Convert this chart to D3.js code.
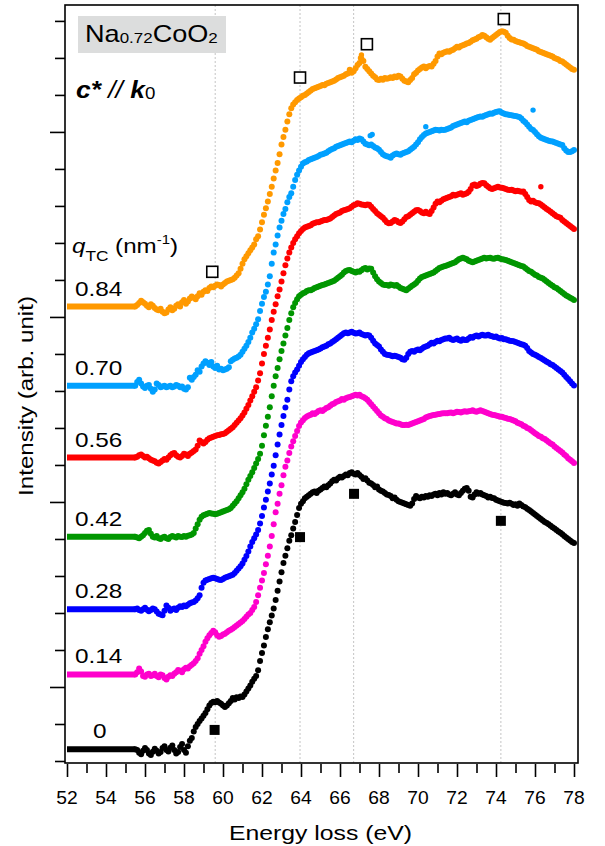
<!DOCTYPE html>
<meta charset="utf-8">
<style>
body { margin: 0; background: #fff; }
text { font-family: "Liberation Sans", Arial, sans-serif; fill: #000; }
</style>
<body>
<script src="https://d3js.org/d3.v7.min.js"></script>
<script>
// energy grid of the measured spectra (eV)
var eStart = 55.5, eStep = 0.1, eFlatFrom = 52;

// q_TC values (nm^-1) and curve colours, bottom to top
var qLabels = ["0", "0.14", "0.28", "0.42", "0.56", "0.70", "0.84"];
var colors = ["#000000", "#ff00cc", "#0000ff", "#009600", "#ff0000", "#00a0ff", "#ff9900"];

// intensities (arb. unit, offset for display), 55.5 -> 78.0 eV
var q000 = [0.32,0.30,0.22,0.18,0.28,0.35,0.30,0.20,0.16,0.25, 0.33,0.28,0.20,0.24,0.35,0.40,0.30,0.26,0.36,0.42,
  0.30,0.20,0.24,0.38,0.46,0.30,0.22,0.40,0.55,0.62, 0.80,0.92,1.00,1.08,1.15,1.22,1.30,1.40,1.50,1.57,
  1.60,1.59,1.62,1.58,1.55,1.50,1.46,1.50,1.56,1.62, 1.70,1.66,1.72,1.70,1.74,1.73,1.80,1.88,1.96,2.04,
  2.14,2.22,2.30,2.45,2.70,2.92,3.12,3.35,3.56,3.75, 3.93,4.12,4.35,4.60,4.85,5.10,5.35,5.55,5.75,5.95,
  6.10,6.28,6.46,6.65,6.84,6.95,7.02,7.10,7.14,7.18, 7.22,7.26,7.28,7.24,7.30,7.34,7.38,7.42,7.40,7.45,
  7.50,7.56,7.60,7.58,7.64,7.68,7.66,7.70,7.74,7.72, 7.78,7.80,7.76,7.74,7.78,7.73,7.68,7.62,7.64,7.58,
  7.52,7.50,7.46,7.40,7.42,7.34,7.30,7.28,7.24,7.20, 7.19,7.16,7.10,7.12,7.06,7.02,7.00,6.98,6.96,6.94,
  6.92,6.90,6.96,7.08,7.16,7.12,7.10,7.14,7.12,7.16, 7.14,7.18,7.16,7.20,7.22,7.18,7.24,7.20,7.26,7.22,
  7.24,7.20,7.18,7.22,7.26,7.20,7.18,7.24,7.30,7.36, 7.38,7.30,7.14,7.12,7.20,7.26,7.22,7.24,7.20,7.18,
  7.16,7.12,7.14,7.11,7.10,7.06,7.04,7.02,7.00,6.98, 6.97,6.96,6.98,6.95,6.92,6.94,6.90,6.96,6.92,6.88,
  6.86,6.82,6.78,6.74,6.70,6.66,6.62,6.58,6.54,6.50, 6.46,6.43,6.40,6.36,6.32,6.28,6.24,6.20,6.17,6.13,
  6.08,6.04,6.00,5.96,5.92,5.89];
var q014 = [2.34,2.40,2.50,2.42,2.30,2.28,2.34,2.36,2.30,2.32, 2.36,2.30,2.26,2.34,2.32,2.24,2.20,2.28,2.32,2.30,
  2.36,2.40,2.46,2.44,2.40,2.48,2.52,2.50,2.56,2.60, 2.64,2.70,2.78,2.90,3.00,3.10,3.22,3.32,3.40,3.46,
  3.52,3.48,3.40,3.36,3.38,3.42,3.44,3.48,3.52,3.55, 3.58,3.62,3.66,3.70,3.74,3.78,3.84,3.90,3.96,4.00,
  4.08,4.16,4.30,4.48,4.68,4.88,5.08,5.32,5.55,5.80, 6.08,6.40,6.72,6.95,7.22,7.45,7.72,7.95,8.12,8.32,
  8.50,8.64,8.78,8.92,9.05,9.15,9.21,9.27,9.31,9.34, 9.36,9.40,9.38,9.42,9.46,9.48,9.46,9.50,9.54,9.56,
  9.60,9.64,9.66,9.70,9.72,9.74,9.78,9.76,9.80,9.82, 9.84,9.86,9.88,9.90,9.88,9.90,9.86,9.84,9.80,9.76,
  9.70,9.64,9.58,9.52,9.46,9.40,9.34,9.30,9.26,9.24, 9.20,9.18,9.16,9.14,9.12,9.12,9.10,9.08,9.08,9.09,
  9.08,9.10,9.12,9.14,9.16,9.18,9.20,9.22,9.24,9.28, 9.30,9.32,9.34,9.35,9.36,9.37,9.38,9.39,9.40,9.40,
  9.40,9.41,9.42,9.40,9.42,9.44,9.43,9.42,9.44,9.45, 9.44,9.45,9.46,9.48,9.45,9.44,9.46,9.48,9.46,9.44,
  9.42,9.40,9.38,9.36,9.35,9.34,9.32,9.30,9.30,9.28, 9.27,9.25,9.24,9.22,9.20,9.18,9.14,9.12,9.10,9.06,
  9.04,9.00,8.98,8.94,8.90,8.86,8.82,8.78,8.76,8.72, 8.70,8.66,8.62,8.58,8.55,8.50,8.46,8.42,8.38,8.34,
  8.28,8.24,8.18,8.14,8.10,8.05];
var q028 = [4.10,4.12,4.08,4.06,4.10,4.14,4.09,4.05,4.08,4.12, 4.10,4.04,3.98,3.96,3.94,4.06,4.20,4.14,4.06,4.10,
  4.12,4.08,4.14,4.18,4.16,4.20,4.18,4.22,4.26,4.28, 4.30,4.34,4.40,4.48,4.68,4.82,4.88,4.90,4.92,4.94,
  4.95,4.94,4.92,4.90,4.89,4.92,4.95,4.97,4.99,5.01, 5.03,5.08,5.14,5.20,5.26,5.34,5.44,5.54,5.66,5.80,
  5.92,6.02,6.12,6.24,6.42,6.62,6.85,7.06,7.28,7.50, 7.74,7.98,8.26,8.55,8.82,9.08,9.32,9.55,9.76,10.04,
  10.26,10.40,10.50,10.58,10.68,10.78,10.86,10.92,10.98,11.02, 11.04,11.06,11.08,11.10,11.12,11.15,11.18,11.20,11.22,11.26,
  11.28,11.32,11.36,11.40,11.44,11.48,11.52,11.56,11.58,11.56, 11.58,11.60,11.57,11.55,11.56,11.58,11.54,11.52,11.50,11.51,
  11.50,11.44,11.36,11.28,11.24,11.20,11.12,11.06,11.00,10.98, 10.97,10.96,10.94,10.95,10.94,10.92,10.90,10.86,10.84,10.90,
  11.00,11.06,11.08,11.06,11.10,11.12,11.10,11.14,11.18,11.20, 11.22,11.26,11.30,11.28,11.32,11.36,11.34,11.38,11.40,11.42,
  11.42,11.44,11.40,11.38,11.40,11.42,11.38,11.36,11.40,11.38, 11.38,11.42,11.46,11.44,11.48,11.50,11.47,11.50,11.52,11.50,
  11.50,11.52,11.49,11.48,11.46,11.47,11.44,11.42,11.43,11.40, 11.40,11.38,11.36,11.35,11.34,11.32,11.30,11.28,11.26,11.25,
  11.22,11.16,11.08,11.04,11.00,10.98,10.95,10.92,10.89,10.86, 10.82,10.79,10.76,10.72,10.70,10.66,10.62,10.58,10.54,10.50,
  10.44,10.38,10.32,10.26,10.20,10.15];
var q042 = [6.06,6.04,6.02,6.06,6.10,6.16,6.22,6.24,6.14,6.06, 6.04,6.08,6.02,6.00,6.04,6.06,6.02,6.00,6.05,6.08,
  6.06,6.04,6.08,6.06,6.05,6.08,6.06,6.09,6.10,6.12, 6.16,6.28,6.40,6.52,6.60,6.64,6.66,6.68,6.70,6.69,
  6.68,6.67,6.68,6.70,6.72,6.74,6.76,6.78,6.80,6.84, 6.90,6.96,7.02,7.10,7.18,7.26,7.36,7.48,7.60,7.70,
  7.80,7.92,8.04,8.16,8.30,8.52,8.80,9.06,9.30,9.56, 9.86,10.14,10.40,10.62,10.86,11.08,11.28,11.50,11.70,11.92,
  12.10,12.26,12.38,12.48,12.56,12.60,12.64,12.66,12.70,12.72, 12.72,12.75,12.78,12.80,12.82,12.84,12.86,12.88,12.90,12.92,
  12.94,12.96,12.98,13.02,13.06,13.10,13.14,13.20,13.24,13.26, 13.27,13.24,13.22,13.20,13.23,13.22,13.26,13.30,13.32,13.28,
  13.31,13.30,13.20,13.10,13.02,12.96,12.92,12.88,12.86,12.86, 12.84,12.88,12.86,12.84,12.86,12.82,12.78,12.76,12.74,12.72,
  12.76,12.80,12.84,12.88,12.92,12.98,13.04,13.08,13.10,13.12, 13.14,13.16,13.18,13.20,13.24,13.28,13.32,13.34,13.36,13.38,
  13.40,13.42,13.44,13.46,13.48,13.52,13.56,13.58,13.60,13.58, 13.56,13.52,13.50,13.48,13.50,13.52,13.54,13.56,13.58,13.60,
  13.58,13.59,13.60,13.58,13.57,13.59,13.60,13.58,13.56,13.55, 13.54,13.52,13.50,13.48,13.46,13.44,13.42,13.40,13.38,13.36,
  13.32,13.28,13.24,13.22,13.18,13.14,13.12,13.08,13.06,13.04, 13.00,12.96,12.92,12.88,12.84,12.80,12.78,12.74,12.70,12.66,
  12.62,12.58,12.55,12.52,12.49,12.46];
var q056 = [8.20,8.22,8.26,8.28,8.24,8.20,8.22,8.18,8.14,8.12, 8.10,8.06,8.04,8.08,8.12,8.16,8.14,8.20,8.26,8.30,
  8.32,8.26,8.22,8.20,8.24,8.30,8.28,8.24,8.30,8.34, 8.38,8.42,8.52,8.66,8.62,8.58,8.62,8.68,8.72,8.74,
  8.76,8.78,8.80,8.81,8.83,8.84,8.86,8.90,8.94,8.98, 9.02,9.08,9.14,9.20,9.26,9.34,9.42,9.52,9.62,9.74,
  9.86,9.98,10.10,10.28,10.48,10.74,11.00,11.22,11.44,11.66, 11.92,12.14,12.34,12.56,12.74,12.96,13.18,13.40,13.58,13.74,
  13.88,14.00,14.10,14.18,14.26,14.32,14.38,14.42,14.44,14.46, 14.48,14.52,14.54,14.56,14.56,14.58,14.60,14.62,14.62,14.64,
  14.66,14.70,14.74,14.78,14.80,14.82,14.86,14.88,14.90,14.92, 14.94,14.98,15.02,15.04,15.07,15.06,15.04,15.03,15.02,15.04,
  15.03,14.98,14.92,14.86,14.80,14.76,14.72,14.68,14.62,14.56, 14.53,14.54,14.58,14.62,14.60,14.56,14.54,14.58,14.64,14.70,
  14.72,14.76,14.80,14.84,14.88,14.89,14.86,14.82,14.80,14.84, 14.80,14.78,14.86,14.96,15.06,15.12,15.10,15.14,15.18,15.20,
  15.22,15.24,15.26,15.30,15.28,15.30,15.32,15.34,15.30,15.32, 15.34,15.38,15.46,15.56,15.58,15.54,15.56,15.60,15.62,15.61,
  15.56,15.52,15.48,15.46,15.48,15.50,15.52,15.50,15.49,15.48, 15.46,15.44,15.43,15.44,15.42,15.40,15.41,15.40,15.38,15.39,
  15.32,15.24,15.16,15.12,15.14,15.10,15.08,15.07,15.04,15.00, 14.96,14.92,14.88,14.84,14.80,14.76,14.72,14.70,14.68,14.62,
  14.58,14.54,14.50,14.46,14.42,14.38];
var q070 = [10.14,10.24,10.30,10.20,10.12,10.08,10.14,10.16,10.06,9.98, 10.04,10.20,10.16,10.10,10.12,10.14,10.10,10.12,10.14,10.10,
  10.12,10.16,10.14,10.10,10.12,10.06,10.04,10.10,10.36,10.30, 10.38,10.44,10.56,10.52,10.66,10.74,10.80,10.76,10.70,10.78,
  10.66,10.62,10.68,10.58,10.60,10.56,10.58,10.60,10.64,10.80, 10.84,10.88,10.90,10.93,10.98,11.06,11.14,11.22,11.32,11.44,
  11.58,11.68,11.80,11.94,12.16,12.36,12.54,12.68,12.88,13.10, 13.44,13.74,13.96,14.20,14.42,14.60,14.78,14.92,15.10,15.24,
  15.34,15.52,15.70,15.84,15.96,16.06,16.15,16.18,16.20,16.24, 16.26,16.28,16.30,16.32,16.35,16.38,16.40,16.42,16.44,16.48,
  16.51,16.54,16.56,16.60,16.62,16.64,16.66,16.68,16.70,16.72, 16.74,16.72,16.76,16.80,16.78,16.82,16.80,16.74,16.68,16.66,
  16.64,16.66,16.62,16.58,16.56,16.52,16.46,16.40,16.36,16.34, 16.33,16.30,16.36,16.40,16.42,16.40,16.38,16.42,16.44,16.46,
  16.48,16.52,16.56,16.60,16.66,16.72,16.80,16.86,16.92,16.96, 16.98,17.00,17.02,17.04,17.06,17.05,17.04,17.06,17.05,17.06,
  17.08,17.10,17.12,17.16,17.18,17.20,17.22,17.24,17.26,17.28, 17.26,17.30,17.32,17.34,17.36,17.38,17.40,17.42,17.41,17.44,
  17.46,17.48,17.50,17.49,17.52,17.54,17.55,17.56,17.52,17.50, 17.48,17.47,17.46,17.45,17.44,17.43,17.42,17.40,17.36,17.30,
  17.26,17.20,17.14,17.08,17.05,17.00,16.94,16.88,16.84,16.82, 16.80,16.78,16.76,16.75,16.74,16.72,16.70,16.68,16.66,16.65,
  16.56,16.50,16.46,16.46,16.48,16.51];
var q084 = [12.28,12.32,12.38,12.44,12.40,12.36,12.30,12.26,12.34,12.30, 12.24,12.20,12.18,12.22,12.14,12.10,12.12,12.20,12.26,12.18,
  12.22,12.30,12.34,12.28,12.40,12.46,12.36,12.42,12.50,12.55, 12.52,12.48,12.56,12.64,12.60,12.68,12.72,12.70,12.78,12.82,
  12.80,12.84,12.88,12.86,12.82,12.88,12.92,12.96,12.98,13.00, 13.02,13.06,13.12,13.18,13.30,13.44,13.56,13.64,13.72,13.80,
  13.88,13.96,14.10,14.18,14.36,14.56,14.76,14.94,15.12,15.32, 15.52,15.74,15.96,16.16,16.40,16.66,16.86,17.06,17.28,17.48,
  17.64,17.74,17.80,17.86,17.90,17.94,17.98,18.00,18.04,18.08, 18.12,18.16,18.18,18.20,18.22,18.24,18.27,18.26,18.30,18.32,
  18.34,18.36,18.38,18.42,18.46,18.48,18.50,18.52,18.56,18.58, 18.68,18.60,18.64,18.72,18.81,18.86,18.98,18.92,18.76,18.70,
  18.64,18.58,18.52,18.48,18.42,18.40,18.44,18.41,18.46,18.44, 18.45,18.48,18.46,18.50,18.48,18.52,18.50,18.44,18.38,18.36,
  18.34,18.40,18.46,18.56,18.60,18.66,18.70,18.74,18.77,18.72, 18.76,18.78,18.77,18.84,18.92,19.04,19.12,19.10,19.14,19.16,
  19.18,19.17,19.20,19.22,19.26,19.30,19.28,19.32,19.34,19.36, 19.39,19.40,19.44,19.48,19.50,19.52,19.56,19.58,19.62,19.60,
  19.56,19.52,19.49,19.54,19.58,19.62,19.66,19.70,19.72,19.71, 19.68,19.60,19.54,19.50,19.49,19.46,19.44,19.42,19.40,19.39,
  19.36,19.32,19.30,19.28,19.26,19.24,19.22,19.18,19.16,19.14, 19.12,19.10,19.08,19.06,19.04,19.00,18.98,18.96,18.92,18.90,
  18.86,18.82,18.78,18.74,18.70,18.68];
var spectra = [q000, q014, q028, q042, q056, q070, q084];

// stray points lying off the curves: [series index, energy, intensity]
var strays = [[4, 76.3, 15.52], [5, 67.55, 16.90], [5, 67.65, 16.93], [5, 70.4, 17.14],
  [5, 75.9, 17.59], [6, 67.1, 19.08], [6, 67.05, 19.00]];

// feature markers: energy, intensity
var openMarks = [[59.45, 13.22], [63.95, 18.47], [67.38, 19.37], [74.4, 20.05]];
var filledMarks = [[59.57, 0.84], [63.95, 6.05], [66.72, 7.22], [74.25, 6.49]];
var guideE = [59.6, 63.95, 66.7, 74.25];

var xTicks = d3.range(52, 79, 1);
var yTicks = d3.range(0, 21, 1);

var W = 605, H = 846;
var x = d3.scaleLinear().domain([52, 78]).range([67, 574]);
var y = d3.scaleLinear().domain([-0.054, 20.43]).range([763, 5]);

var svg = d3.select("body").append("svg").attr("width", W).attr("height", H);

// dotted guide lines
svg.selectAll("line.guide").data(guideE).enter().append("line")
    .attr("class", "guide")
    .attr("x1", function(d) { return x(d); }).attr("x2", function(d) { return x(d); })
    .attr("y1", y.range()[0]).attr("y2", y.range()[1])
    .style("stroke", "#c4c4c4").style("stroke-width", 1).style("stroke-dasharray", "2,2");

// curves
spectra.forEach(function(vals, k) {
  var g = svg.append("g");
  g.append("line")
      .attr("x1", x(eFlatFrom)).attr("x2", x(eStart))
      .attr("y1", y(vals[0])).attr("y2", y(vals[0]))
      .style("stroke", colors[k]).style("stroke-width", 6);
  g.selectAll("circle").data(vals).enter().append("circle")
      .attr("cx", function(d, i) { return x(eStart + i * eStep); })
      .attr("cy", function(d) { return y(d); })
      .attr("r", 3)
      .style("fill", colors[k]);
});
svg.selectAll("circle.stray").data(strays).enter().append("circle")
    .attr("class", "stray")
    .attr("cx", function(d) { return x(d[1]); })
    .attr("cy", function(d) { return y(d[2]); })
    .attr("r", 2.7)
    .style("fill", function(d) { return colors[d[0]]; });

// markers
svg.selectAll("rect.open").data(openMarks).enter().append("rect")
    .attr("class", "open")
    .attr("x", function(d) { return x(d[0]) - 5.5; })
    .attr("y", function(d) { return y(d[1]) - 5.5; })
    .attr("width", 11).attr("height", 11)
    .style("fill", "#fff").style("stroke", "#000").style("stroke-width", 1.6);
svg.selectAll("rect.filled").data(filledMarks).enter().append("rect")
    .attr("class", "filled")
    .attr("x", function(d) { return x(d[0]) - 5; })
    .attr("y", function(d) { return y(d[1]) - 5; })
    .attr("width", 10).attr("height", 10)
    .style("fill", "#000");

// frame
svg.append("rect")
    .attr("x", 65).attr("y", 5).attr("width", 513).attr("height", 758)
    .style("fill", "none").style("stroke", "#000").style("stroke-width", 1.6);

// y axis (no labels)
var yAxis = svg.append("g").attr("transform", "translate(65,0)")
    .call(d3.axisLeft(y).tickValues(yTicks).tickSize(10).tickFormat(""));
yAxis.select(".domain").remove();
yAxis.selectAll(".tick line").style("stroke-width", 1.6)
    .filter(function(d) { return d % 5 === 2; }).attr("x2", -15);

// x axis
var xAxis = svg.append("g").attr("transform", "translate(0,764)")
    .call(d3.axisBottom(x).tickValues(xTicks).tickSize(9).tickFormat(""));
xAxis.select(".domain").remove();
xAxis.selectAll(".tick line").style("stroke-width", 1.6)
    .filter(function(d) { return d % 2 === 0; }).attr("y2", 13);

// text drawn slightly wide, like the original lettering
function label(px, py, sx, anchor, size) {
  return svg.append("text")
      .attr("transform", "translate(" + px + "," + py + ") scale(" + sx + ",1)")
      .attr("text-anchor", anchor || "start")
      .style("font-size", size + "px");
}

xTicks.filter(function(d) { return d % 2 === 0; }).forEach(function(d) {
  label(x(d), 804, 1.1, "middle", 17.5).text(d);
});
label(320.5, 840, 1.18, "middle", 21).text("Energy loss (eV)");
svg.append("text")
    .attr("transform", "translate(33,396) rotate(-90) scale(1.15,1)")
    .attr("text-anchor", "middle")
    .style("font-size", "21px")
    .text("Intensity (arb. unit)");

// q labels above the flat part of each curve
qLabels.forEach(function(q, k) {
  label(q === "0" ? 93 : 75, y(spectra[k][0]) - 11, 1.16, "start", 21).text(q);
});

// q_TC (nm^-1)
var qt = label(72, 253, 1.15, "start", 21);
qt.append("tspan").style("font-style", "italic").text("q");
qt.append("tspan").attr("dy", 8).style("font-size", "15px").text("TC");
qt.append("tspan").attr("dy", -8).text(" (nm");
qt.append("tspan").attr("dy", -9).style("font-size", "13px").text("-1");
qt.append("tspan").attr("dy", 9).text(")");

// sample box
svg.append("rect").attr("x", 78).attr("y", 16).attr("width", 148).attr("height", 37)
    .style("fill", "#dcdddd");
var nt = label(85, 42, 1.13, "start", 24);
nt.append("tspan").text("Na");
nt.append("tspan").attr("dy", 1).style("font-size", "15px").text("0.72");
nt.append("tspan").attr("dy", -1).text("CoO");
nt.append("tspan").attr("dy", 1).style("font-size", "15px").text("2");

// c* // k0
var ck = label(76, 98, 1.1, "start", 24);
ck.append("tspan").style("font-style", "italic").style("font-weight", "bold").text("c*");
ck.append("tspan").style("font-style", "italic").text(" // ");
ck.append("tspan").style("font-style", "italic").style("font-weight", "bold").text("k");
ck.append("tspan").attr("dy", 1).style("font-size", "17px").text("0");
</script>
</body>
